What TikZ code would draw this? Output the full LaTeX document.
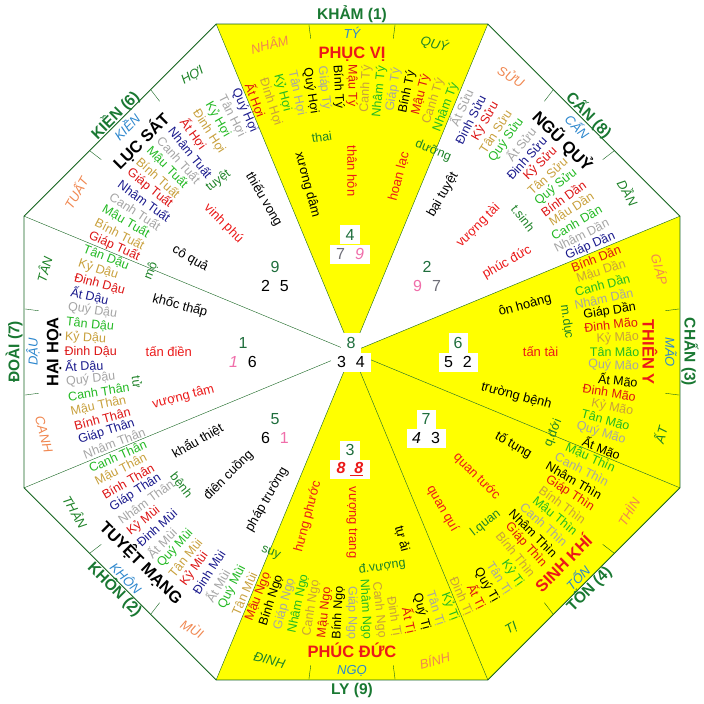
\documentclass[tikz,border=0pt]{standalone}
\usepackage{fontspec}
\setmainfont{Liberation Sans}
\usetikzlibrary{positioning}

\definecolor{vien}{RGB}{20,100,30}
\definecolor{quaicol}{RGB}{25,120,50}
\definecolor{vang}{RGB}{255,255,0}
\definecolor{son1}{RGB}{240,135,80}
\definecolor{son2}{RGB}{45,135,205}
\definecolor{son3}{RGB}{30,130,40}
\definecolor{do}{RGB}{235,25,25}
\definecolor{kim}{RGB}{165,165,165}
\definecolor{hoa}{RGB}{220,20,20}
\definecolor{tho}{RGB}{200,160,60}
\definecolor{moc}{RGB}{35,185,35}
\definecolor{navy1}{RGB}{25,25,140}
\definecolor{sao}{RGB}{30,110,60}
\definecolor{hong}{RGB}{240,110,170}
\definecolor{xam}{RGB}{110,110,120}

\tikzset{
  fenjin/.style={inner sep=0.5pt,font=\fontsize{12.5}{13}\selectfont},
  huyen/.style={inner sep=0.5pt,font=\fontsize{13}{14}\selectfont},
  stage/.style={inner sep=0pt,text=son3,font=\fontsize{12.5}{13}\selectfont},
  son/.style={inner sep=0pt,font=\fontsize{13}{14}\selectfont\itshape},
  quai/.style={inner sep=0pt,text=quaicol,font=\fontsize{15.5}{17}\selectfont\bfseries},
  cung/.style={inner sep=0pt,font=\fontsize{16.5}{18}\selectfont\bfseries},
  starbox/.style={fill=white,inner sep=1pt,minimum height=19pt,minimum width=19pt,
    font=\fontsize{16}{17}\selectfont},
  rowbox/.style={starbox,minimum width=39pt}
}

% radial text, outer end at the given radius
\newcommand\radnode[5]{%
  \pgfmathsetmacro\rdA{mod(#2+720,360)}%
  \pgfmathtruncatemacro\rdOut{(\rdA<90)||(\rdA>=270)}%
  \ifnum\rdOut=1
    \pgfmathsetmacro\rdRot{ifthenelse(\rdA<90,\rdA,\rdA-360)}\def\rdAnc{east}%
  \else
    \pgfmathsetmacro\rdRot{\rdA-180}\def\rdAnc{west}%
  \fi
  \node[#4,rotate=\rdRot,anchor=\rdAnc] (#1) at (\rdA:#3) {#5};%
}
% text along the rim
\newcommand\tannode[5]{%
  \pgfmathsetmacro\tnA{mod(#2+720,360)}%
  \pgfmathsetmacro\tnRot{ifthenelse(\tnA<=180,\tnA-90,\tnA-270)}%
  \node[#4,rotate=\tnRot] (#1) at (\tnA:#3) {#5};%
}

\def\grpTy{Giáp Tý/kim,Bính Tý/thuy,Mậu Tý/hoa,Canh Tý/tho,Nhâm Tý/moc}
\def\grpSuu{Ất Sửu/kim,Đinh Sửu/thuy,Kỷ Sửu/hoa,Tân Sửu/tho,Quý Sửu/moc}
\def\grpDan{Bính Dần/hoa,Mậu Dần/tho,Canh Dần/moc,Nhâm Dần/kim,Giáp Dần/thuy}
\def\grpMao{Đinh Mão/hoa,Kỷ Mão/tho,Tân Mão/moc,Quý Mão/kim,Ất Mão/thuy}
\def\grpThin{Mậu Thìn/moc,Canh Thìn/kim,Nhâm Thìn/thuy,Giáp Thìn/hoa,Bính Thìn/tho}
\def\grpTi{Kỷ Tị/moc,Tân Tị/kim,Quý Tị/thuy,Ất Tị/hoa,Đinh Tị/tho}
\def\grpNgo{Canh Ngọ/tho,Nhâm Ngọ/moc,Giáp Ngọ/kim,Bính Ngọ/thuy,Mậu Ngọ/hoa}
\def\grpMui{Tân Mùi/tho,Quý Mùi/moc,Ất Mùi/kim,Đinh Mùi/thuy,Kỷ Mùi/hoa}
\def\grpThan{Nhâm Thân/kim,Giáp Thân/thuy,Bính Thân/hoa,Mậu Thân/tho,Canh Thân/moc}
\def\grpDau{Quý Dậu/kim,Ất Dậu/thuy,Đinh Dậu/hoa,Kỷ Dậu/tho,Tân Dậu/moc}
\def\grpTuat{Giáp Tuất/hoa,Bính Tuất/tho,Mậu Tuất/moc,Canh Tuất/kim,Nhâm Tuất/thuy}
\def\grpHoi{Ất Hợi/hoa,Đinh Hợi/tho,Kỷ Hợi/moc,Tân Hợi/kim,Quý Hợi/thuy}

\begin{document}
\begin{tikzpicture}[x=1pt,y=1pt]
  \useasboundingbox (-352,-352) rectangle (352,352);
  \coordinate (O) at (0,0);
  \foreach \i in {0,...,7}
    \coordinate (v\i) at (22.5+45*\i:355);

  % yellow palaces
  \fill[vang] (O) -- (v1) -- (v2) -- cycle;
  \fill[vang] (O) -- (v7) -- (v0) -- cycle;
  \fill[vang] (O) -- (v6) -- (v7) -- cycle;
  \fill[vang] (O) -- (v5) -- (v6) -- cycle;

  \draw[vien,line width=0.8pt] (v0) -- (v1) -- (v2) -- (v3) -- (v4) -- (v5) -- (v6) -- (v7) -- cycle;
  \foreach \i in {0,...,7}
    \draw[vien] (O) -- (v\i);
  \foreach \ca in {90,45,0,-45,-90,-135,180,135}
    \foreach \d in {7.5,-7.5}
      \draw[vien] (\ca+\d:316) -- (\ca+\d:330);

  % palaces, their names and the 24 mountains
  \foreach \ca/\gua/\rg/\cungname/\cungcol/\sonA/\sonB/\sonC [count=\s] in {
      90/KHẢM (1)/338/PHỤC VỊ/do/NHÂM/TÝ/QUÝ,
      45/CẤN (8)/335/NGŨ QUỶ/black/SỬU/CẤN/DẦN,
      0/CHẤN (3)/338/THIÊN Y/do/GIÁP/MÃO/ẤT,
      -45/TỐN (4)/335/SINH KHÍ/do/THÌN/TỐN/TỊ,
      -90/LY (9)/338/PHÚC ĐỨC/do/BÍNH/NGỌ/ĐINH,
      -135/KHÔN (2)/335/TUYỆT MẠNG/black/MÙI/KHÔN/THÂN,
      180/ĐOÀI (7)/338/HẠI HỌA/black/CANH/DẬU/TÂN,
      135/KIỀN (6)/335/LỤC SÁT/black/TUẤT/KIỀN/HỢI} {
    \tannode{gua\s}{\ca}{\rg}{quai}{\gua}
    \tannode{cung\s}{\ca}{298}{cung,text=\cungcol}{\cungname}
    \tannode{sa\s}{\ca+15}{319}{son,text=son1}{\sonA}
    \tannode{sb\s}{\ca}{319}{son,text=son2}{\sonB}
    \tannode{sc\s}{\ca-15}{319}{son,text=son3}{\sonC}
  }

  % 120 phan kim
  \foreach \grp/\wc [count=\m from 0] in {\grpHoi/black,\grpTy/black,\grpTy/black,
      \grpSuu/navy1,\grpSuu/navy1,\grpDan/navy1,\grpDan/black,\grpMao/black,\grpMao/black,
      \grpThin/black,\grpThin/black,\grpTi/black,\grpTi/black,\grpNgo/black,\grpNgo/black,
      \grpMui/navy1,\grpMui/navy1,\grpThan/navy1,\grpThan/navy1,\grpDau/navy1,\grpDau/navy1,
      \grpTuat/navy1,\grpTuat/navy1,\grpHoi/navy1} {
    \colorlet{thuy}{\wc}
    \edef\curlist{\grp}
    \foreach \nm/\cl [count=\k from 0] in \curlist {
      \radnode{fj\m-\k}{111-15*\m-3*\k}{288}{fenjin,text=\cl}{\nm}
    }
  }

  % trang sinh
  \foreach \st [count=\k from 0] in {m.dục,t.sinh,dưỡng,thai,tuyệt,mộ,tử,bệnh,suy,đ.vượng,l.quan,q.đới} {
    \tannode{ts\k}{8+30*\k}{217}{stage}{\st}
  }

  % 24 huyen khong
  \foreach \hx/\hc [count=\k from 0] in {tấn tài/do,ôn hoàng/black,phúc đức/do,vượng tài/do,
      bại tuyệt/black,hoan lạc/do,thân hôn/do,xương dâm/black,thiếu vong/black,vinh phú/do,
      cô quả/black,khốc thấp/black,tấn điền/do,vượng tâm/do,khẩu thiệt/black,điên cuồng/black,
      pháp trường/black,hưng phước/do,vượng trang/do,tự ải/black,quan quí/do,quan tước/do,
      tố tụng/black,trường bệnh/black} {
    \radnode{hk\k}{15*\k}{207}{huyen,text=\hc}{\hx}
  }

  % flying stars
  \node[starbox,text=sao] (sN) at (-2,117) {4};
  \node[rowbox,below=0pt of sN] (rN) {\textcolor{xam}{7}\hspace{10pt}\textcolor{hong}{\itshape 9}};
  \node[starbox,text=sao] (sNE) at (75,85) {2};
  \node[rowbox,below=0pt of sNE] (rNE) {\textcolor{hong}{9}\hspace{10pt}\textcolor{xam}{7}};
  \node[starbox,text=sao] (sE) at (106,9) {6};
  \node[rowbox,below=0pt of sE] (rE) {5\hspace{10pt}2};
  \node[starbox,text=sao] (sSE) at (74,-67) {7};
  \node[rowbox,below=0pt of sSE] (rSE) {\itshape 4\hspace{10pt}\upshape 3};
  \node[starbox,text=sao] (sS) at (-2,-98) {3};
  \node[rowbox,below=0pt of sS,text=do] (rS) {\bfseries\itshape 8\hspace{5pt}\underline{\hspace{4pt}8}};
  \node[starbox,text=sao] (sSW) at (-77,-67) {5};
  \node[rowbox,below=0pt of sSW] (rSW) {6\hspace{10pt}\textcolor{hong}{1}};
  \node[starbox,text=sao] (sW) at (-109,9) {1};
  \node[rowbox,below=0pt of sW] (rW) {\textcolor{hong}{\itshape 1}\hspace{10pt}6};
  \node[starbox,text=sao] (sNW) at (-77,85) {9};
  \node[rowbox,below=0pt of sNW] (rNW) {2\hspace{10pt}5};
  \node[starbox,text=sao] (sC) at (-1,9) {8};
  \node[rowbox,below=0pt of sC] (rC) {3\hspace{10pt}4};
\end{tikzpicture}
\end{document}
